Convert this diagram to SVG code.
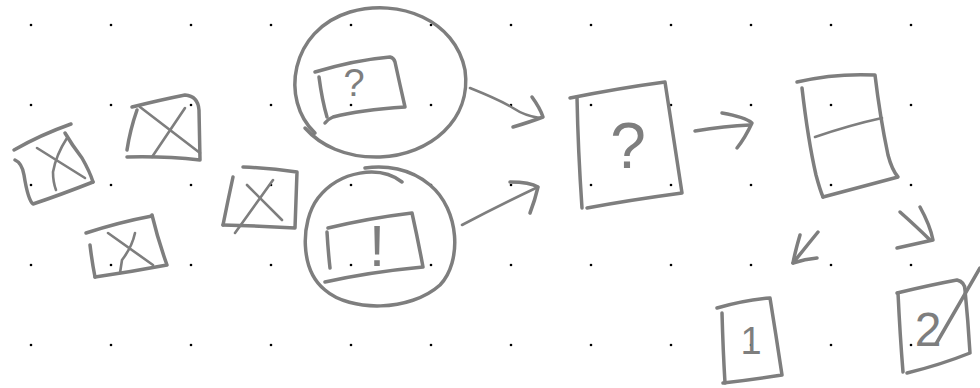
<svg xmlns="http://www.w3.org/2000/svg" width="980" height="388" viewBox="0 0 980 388">
<style>
.s{fill:none;stroke:#7e7e7e;stroke-width:3.5;stroke-linecap:round;stroke-linejoin:round}
.t{fill:none;stroke:#7e7e7e;stroke-width:2.6;stroke-linecap:round;stroke-linejoin:round}
.h{font-family:"Liberation Sans","DejaVu Sans",sans-serif;fill:#7e7e7e;text-anchor:middle}
</style>
<defs>
<pattern id="grid" x="0" y="0" width="80" height="80" patternUnits="userSpaceOnUse">
<circle cx="31" cy="25" r="1.3" fill="#000"/>
</pattern>
</defs>
<rect width="980" height="388" fill="#fff"/>
<rect width="980" height="388" fill="url(#grid)"/>

<g id="boxA">
<path class="s" d="M14,150 Q40,135 71,124"/>
<path class="s" d="M15,160 Q22,163 24,175 Q28,200 33,204 Q60,195 93,182"/>
<path class="s" d="M65,133 Q72,145 82,158 Q90,172 93,182"/>
<path class="t" d="M37,148 L85,178"/>
<path class="t" d="M67,138 Q56,155 53,172 Q53,182 56,190"/>
</g>

<g id="boxB">
<path class="s" d="M132,107 Q160,100 185,95 Q198,96 199,110 L200,160 Q165,156 127,157"/>
<path class="s" d="M137,110 Q130,130 127,150"/>
<path class="t" d="M140,107 L200,153"/>
<path class="t" d="M185,108 L152,157"/>
</g>

<g id="boxC">
<path class="s" d="M86,233 Q120,222 152,216"/>
<path class="s" d="M152,215 Q158,240 167,265 Q130,272 95,277"/>
<path class="s" d="M90,245 Q92,262 95,277"/>
<path class="t" d="M108,233 L153,265"/>
<path class="t" d="M135,233 Q132,247 122,260 L120,273"/>
</g>

<g id="boxD">
<path class="s" d="M243,167 Q270,168 297,172 Q296,200 295,228 Q260,226 223,225"/>
<path class="s" d="M233,177 Q228,200 223,225"/>
<path class="t" d="M247,185 L282,220"/>
<path class="t" d="M273,180 L235,233"/>
</g>

<g id="circleTop">
<path class="s" d="M315,133 C280,100 290,30 350,12 C400,-2 455,20 465,70 C472,120 430,155 380,157 C345,158 320,145 305,128"/>
<path class="s" d="M315,72 Q355,60 390,57 Q394,58 395,62 Q400,85 405,107 Q360,110 333,117 Q328,119 325,123"/>
<path class="s" d="M319,77 Q322,100 327,117"/>
<text class="h" x="354" y="96" font-size="38">?</text>
</g>

<g id="circleBottom">
<path class="s" d="M402,182 C380,165 340,170 318,198 C300,222 300,270 325,290 C350,312 410,312 440,285 C462,262 460,210 430,185 C410,168 385,165 365,168"/>
<path class="s" d="M328,228 Q370,218 412,213 Q418,240 423,267 Q370,272 325,282"/>
<path class="s" d="M327,232 Q328,250 330,268"/>
<text class="h" x="377" y="266" font-size="58">!</text>
</g>

<g id="boxQuestion">
<path class="s" d="M570,98 Q620,88 665,82 Q674,140 682,193 Q630,200 587,208"/>
<path class="s" d="M577,97 Q578,150 582,208"/>
<text class="h" x="628" y="168" font-size="64">?</text>
</g>

<g id="boxSplit">
<path class="s" d="M797,82 Q835,73 875,75 Q880,117 888,155 Q892,170 898,177 Q860,187 823,197"/>
<path class="s" d="M802,88 Q808,140 816,175 Q820,190 823,197"/>
<path class="t" d="M815,137 Q850,125 882,118"/>
</g>

<g id="box1">
<path class="s" d="M717,308 Q745,300 770,298 Q776,335 782,375 Q750,380 723,383"/>
<path class="s" d="M722,313 Q723,350 725,383"/>
<text class="h" x="751" y="354" font-size="38">1</text>
</g>

<g id="box2">
<path class="s" d="M897,293 Q930,285 957,280 Q965,282 965,290 Q968,320 970,353 Q940,365 907,373"/>
<path class="s" d="M898,293 Q900,335 903,372"/>
<text class="h" x="928" y="346" font-size="48">2</text>
<path class="s" d="M936,344 L980,268"/>
</g>

<g id="connectors">
<path class="t" d="M470,88 Q500,100 513,108 Q525,116 540,118"/>
<path class="s" d="M532,97 Q540,108 543,117 Q530,122 513,127"/>
<path class="t" d="M462,225 Q500,205 538,187"/>
<path class="s" d="M510,182 Q530,182 538,187 Q535,200 530,213"/>
<path class="s" d="M695,131 Q725,126 750,125"/>
<path class="s" d="M722,113 Q745,117 752,123 Q745,138 737,148"/>
<path class="s" d="M818,232 Q805,248 793,263"/>
<path class="s" d="M800,235 Q795,252 793,263 Q805,259 817,258"/>
<path class="s" d="M900,212 Q918,228 930,240"/>
<path class="s" d="M920,207 Q930,225 933,240 Q915,244 897,248"/>
</g>
</svg>
